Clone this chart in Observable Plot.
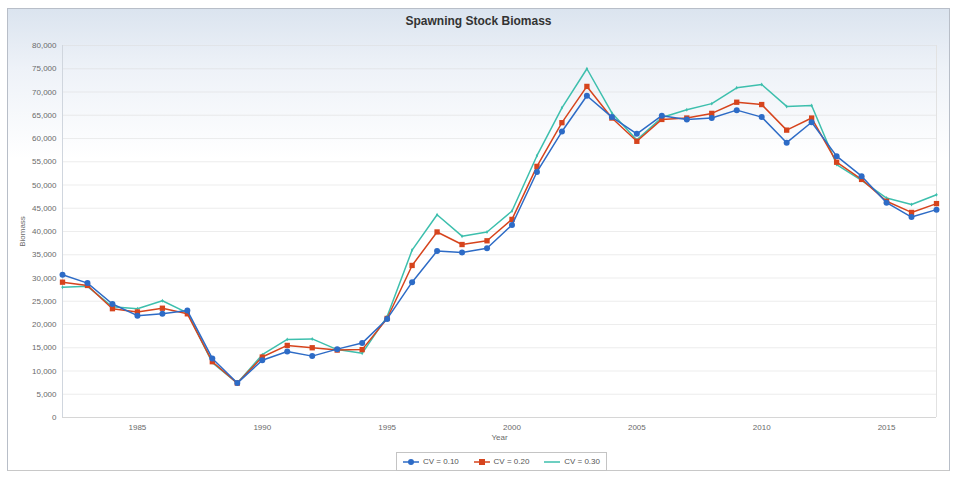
<!DOCTYPE html>
<html>
<head>
<meta charset="utf-8">
<script src="https://cdn.jsdelivr.net/npm/d3@7"></script>
<script src="https://cdn.jsdelivr.net/npm/@observablehq/plot@0.6"></script>
<style>
  html, body { margin: 0; padding: 0; background: #fff; }
  body { width: 956px; height: 481px; position: relative; overflow: hidden; font-family: "Liberation Sans", Arial, sans-serif; }
  #frame { position: absolute; left: 7px; top: 8px; width: 941px; height: 461px; border: 1px solid #b8bec8; border-bottom-color: #c8c8c8;
           background: linear-gradient(to bottom, #dbe4ef 0px, #eef2f8 60px, #ffffff 150px, #ffffff 100%); }
  #title { position: absolute; left: 0; top: 5px; width: 941px; text-align: center; font-weight: bold; font-size: 12px; color: #333; }
  #chart { position: absolute; left: 0; top: 24px; }
  #legend { position: absolute; left: 388px; top: 443px; width: 197px; height: 17px; padding: 0 6px; border: 1px solid #c4c4c4; background: #fff;
            display: flex; align-items: center; justify-content: space-between; font-size: 8px; color: #555; }
  #legend span { display: flex; align-items: center; gap: 4px; }
</style>
</head>
<body>
<div id="frame">
  <div id="title">Spawning Stock Biomass</div>
  <div id="chart"></div>
  <div id="legend"></div>
</div>
<script>
const years = d3.range(1982, 2018);
const seriesNames = ["CV = 0.10", "CV = 0.20", "CV = 0.30"];
const cv10 = [30700, 28900, 24400, 21900, 22300, 23000, 12700, 7400, 12300, 14200, 13200, 14700, 16000, 21200, 29100, 35800, 35500, 36400, 41400, 52800, 61500, 69200, 64600, 61000, 64900, 64100, 64400, 66100, 64600, 59100, 63500, 56200, 51900, 46200, 43100, 44700];
const cv20 = [29100, 28400, 23400, 22700, 23500, 22300, 12000, 7400, 13000, 15500, 15000, 14500, 14600, 21300, 32700, 39900, 37200, 38000, 42600, 54000, 63400, 71200, 64400, 59400, 64100, 64400, 65400, 67800, 67300, 61800, 64400, 54900, 51200, 46500, 44100, 46000];
const cv30 = [28000, 28200, 23800, 23400, 25100, 22500, 11800, 7400, 13500, 16800, 16900, 14600, 13800, 21700, 36000, 43600, 39000, 39900, 44400, 56300, 66600, 75000, 65500, 59700, 64500, 66200, 67500, 70900, 71600, 66900, 67100, 54400, 51000, 47200, 45800, 47900];
const yTicks = d3.range(0, 80001, 5000);
const xTicks = [1985, 1990, 1995, 2000, 2005, 2010, 2015];
const colors = ["#2d6bc6", "#d6441d", "#3dbfad"];

const toRows = (arr, name) => years.map((y, i) => ({year: y, value: arr[i], series: name}));
const d10 = toRows(cv10, seriesNames[0]);
const d20 = toRows(cv20, seriesNames[1]);
const d30 = toRows(cv30, seriesNames[2]);

const chart = Plot.plot({
  width: 941,
  height: 420,
  marginLeft: 54,
  marginRight: 13,
  marginTop: 12,
  marginBottom: 36,
  style: {background: "transparent", fontFamily: "Liberation Sans, Arial, sans-serif"},
  x: {domain: [1982, 2017]},
  y: {domain: [0, 80000]},
  marks: [
    Plot.gridY(yTicks, {stroke: "#dcdcdc", strokeOpacity: 0.5}),
    Plot.ruleX([1982], {stroke: "#d0d6de"}),
    Plot.ruleX([2017], {stroke: "#e2e2e2"}),
    Plot.ruleY([0], {stroke: "#d6d6d6"}),
    Plot.axisY(yTicks, {tickFormat: d3.format(","), tickSize: 0, tickPadding: 6, fontSize: 8, fill: "#6a6a6a",
      label: "Biomass", labelAnchor: "center", labelOffset: 43, labelArrow: "none"}),
    Plot.axisX(xTicks, {tickFormat: d => String(d), tickSize: 0, tickPadding: 7, fontSize: 8, fill: "#6a6a6a",
      label: "Year", labelAnchor: "center", labelOffset: 22, labelArrow: "none"}),
    Plot.line(d30, {x: "year", y: "value", stroke: colors[2], strokeWidth: 1.5}),
    Plot.dot(d30, {x: "year", y: "value", fill: colors[2], r: 1.2, symbol: "diamond"}),
    Plot.line(d20, {x: "year", y: "value", stroke: colors[1], strokeWidth: 1.5}),
    Plot.dot(d20, {x: "year", y: "value", fill: colors[1], r: 3, symbol: "square"}),
    Plot.line(d10, {x: "year", y: "value", stroke: colors[0], strokeWidth: 1.5}),
    Plot.dot(d10, {x: "year", y: "value", fill: colors[0], r: 3})
  ]
});
document.getElementById("chart").appendChild(chart);

const legend = document.getElementById("legend");
const icons = [
  c => `<svg width="16" height="8"><line x1="0" y1="4" x2="16" y2="4" stroke="${c}" stroke-width="1.5"/><circle cx="8" cy="4" r="3" fill="${c}"/></svg>`,
  c => `<svg width="16" height="8"><line x1="0" y1="4" x2="16" y2="4" stroke="${c}" stroke-width="1.5"/><rect x="5" y="1" width="6" height="6" fill="${c}"/></svg>`,
  c => `<svg width="16" height="8"><line x1="0" y1="4" x2="16" y2="4" stroke="${c}" stroke-width="1.5"/></svg>`
];
seriesNames.forEach((n, i) => {
  const s = document.createElement("span");
  s.innerHTML = icons[i](colors[i]) + `<span>${n}</span>`;
  legend.appendChild(s);
});
</script>
</body>
</html>
